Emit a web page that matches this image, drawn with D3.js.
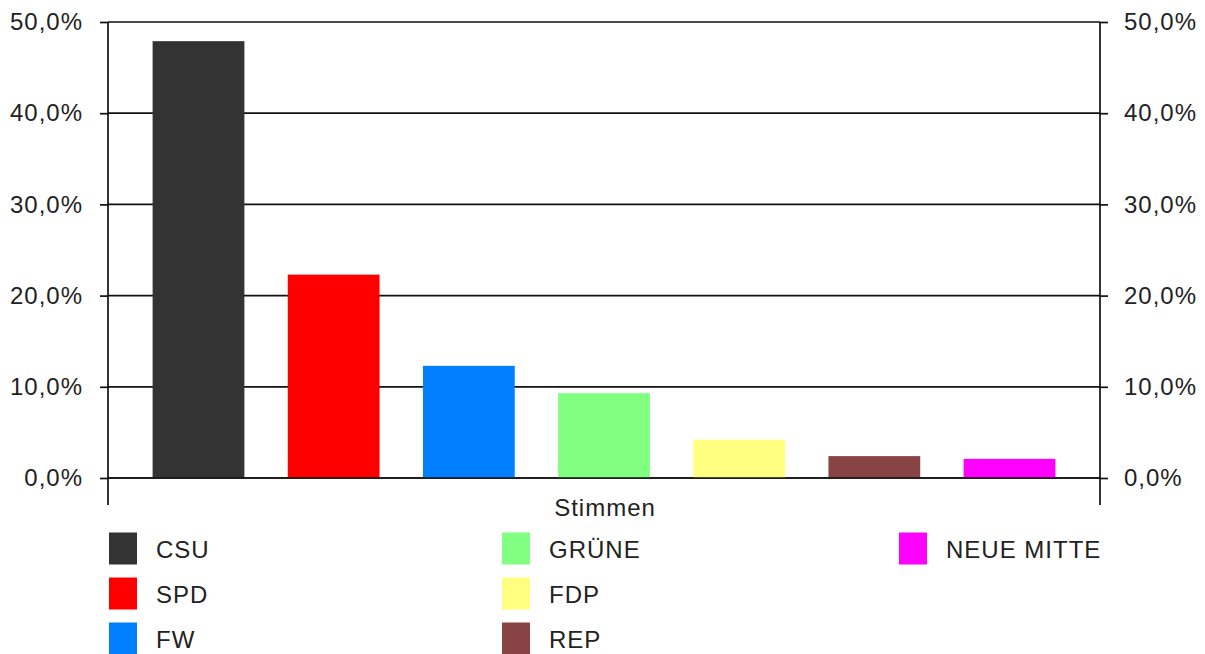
<!DOCTYPE html>
<html><head><meta charset="utf-8">
<script src="https://cdn.jsdelivr.net/npm/d3@7"></script>
<style>
html,body{margin:0;padding:0;background:#fff;}
text{font-family:"Liberation Sans",Arial,sans-serif;font-size:24px;letter-spacing:1px;fill:#222;}
</style></head>
<body>
<svg id="chart" width="1205" height="654"></svg>
<script>
const parties = ["CSU","SPD","FW","GRÜNE","FDP","REP","NEUE MITTE"];
const values = [47.9, 22.3, 12.3, 9.3, 4.2, 2.4, 2.1];
const colors = ["#333333","#ff0000","#0080ff","#80ff80","#ffff80","#884444","#ff00ff"];
const tickValues = [0,10,20,30,40,50];
const axisTitle = "Stimmen";

const svg = d3.select("#chart");
const L = 108, R = 1100, T = 22, B = 478;

const y = d3.scaleLinear().domain([0,50]).range([B,T]);
const x = d3.scaleBand().domain(parties).range([L,R]).paddingInner(0.321).paddingOuter(0.33);
const fmt = v => d3.format(".1f")(v).replace(".", ",") + "%";

// gridlines
svg.append("g").selectAll("line").data(tickValues).join("line")
  .attr("x1",L).attr("x2",R).attr("y1",d=>y(d)).attr("y2",d=>y(d))
  .attr("stroke","#111").attr("stroke-width",1.7);

// bars
svg.append("g").selectAll("rect").data(parties).join("rect")
  .attr("x",d=>x(d)).attr("width",x.bandwidth())
  .attr("y",(d,i)=>y(values[i])).attr("height",(d,i)=>B-y(values[i]))
  .attr("fill",(d,i)=>colors[i]);

// zero line on top
svg.append("line").attr("x1",L).attr("x2",R).attr("y1",y(0)).attr("y2",y(0))
  .attr("stroke","#111").attr("stroke-width",1.7);

// axes
const leftAxis = d3.axisLeft(y).tickValues(tickValues).tickFormat(fmt).tickSize(8).tickPadding(17);
const rightAxis = d3.axisRight(y).tickValues(tickValues).tickFormat(fmt).tickSize(8).tickPadding(16);
const gl = svg.append("g").attr("transform",`translate(${L},0)`).call(leftAxis);
const gr = svg.append("g").attr("transform",`translate(${R},0)`).call(rightAxis);
[gl,gr].forEach(g=>{
  g.select(".domain").remove();
  g.selectAll(".tick line").attr("stroke","#111").attr("stroke-width",1.7);
  g.selectAll(".tick text").style("font-size","24px").style("font-family","'Liberation Sans',Arial,sans-serif").attr("fill","#222");
});
// vertical axis lines (extend below zero)
[L,R].forEach(xx=>svg.append("line").attr("x1",xx).attr("x2",xx).attr("y1",T).attr("y2",505)
  .attr("stroke","#111").attr("stroke-width",1.7));

// axis title
svg.append("text").attr("x",(L+R)/2+1).attr("y",516).attr("text-anchor","middle").text(axisTitle);

// legend
const colX = [109, 502, 899];
const rowY = [548.5, 593.5, 638.5];
const lg = svg.append("g").selectAll("g").data(parties).join("g")
  .attr("transform",(d,i)=>`translate(${colX[Math.floor(i/3)]},${rowY[i%3]})`);
lg.append("rect").attr("x",0).attr("y",-16).attr("width",28).attr("height",32).attr("fill",(d,i)=>colors[i]);
lg.append("text").attr("x",47).attr("y",9).text(d=>d);
</script>
</body></html>
